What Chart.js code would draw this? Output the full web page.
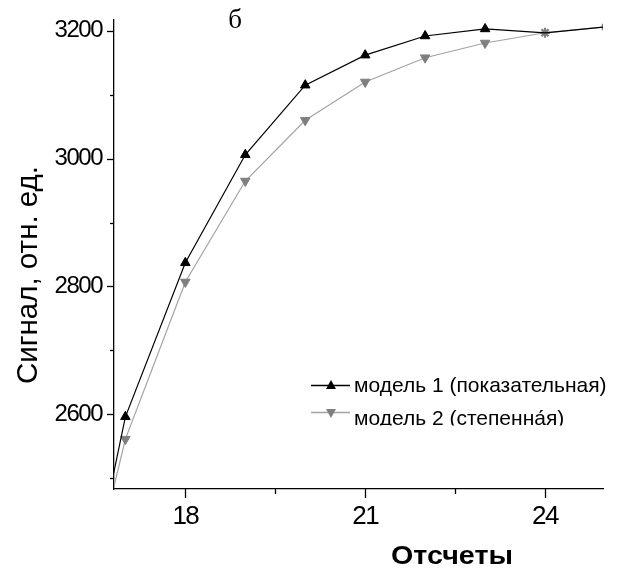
<!DOCTYPE html>
<html><head><meta charset="utf-8">
<script src="https://cdn.jsdelivr.net/npm/chart.js@4.4.0/dist/chart.umd.min.js"></script>
<style>html,body{margin:0;padding:0;background:#fff;}canvas{display:block;}</style>
</head><body>
<canvas id="c" width="627" height="574"></canvas>
<script>
// ---- data ----
const samples = [16, 17, 18, 19, 20, 21, 22, 23, 24, 25];
const model1 = [2144, 2596, 2837, 3006, 3115, 3162, 3192, 3203, 3197, 3206];
const model2 = [2172, 2561, 2807, 2965, 3060, 3120, 3158, 3181, 3197, 3206];
const seriesLabels = ['модель 1 (показательная)', 'модель 2 (степенна́я)'];
const xTickValues = [18, 19.5, 21, 22.5, 24];
const xTickLabels = ['18', '', '21', '', '24'];
const yTickValues = [2500, 2600, 2700, 2800, 2900, 3000, 3100, 3200];
const yTickLabels = ['', '2600', '', '2800', '', '3000', '', '3200'];
const xTitle = 'Отсчеты';
const yTitle = 'Сигнал, отн. ед.';
const panelTitle = 'б';

const BLACK = '#000000', GRAY_LINE = '#a3a3a3', GRAY_MARK = '#7f7f7f';
const SANS = '"Liberation Sans", Arial, sans-serif';

const n = samples.length;
const pts = (ys) => samples.map((x, i) => ({x, y: ys[i]}));

const m1Style = samples.map(() => 'triangle');
const m1Radius = samples.map((x, i) => i >= n - 2 ? 0 : 5.5);
const m2Style = samples.map((x, i) => i === n - 2 ? 'star' : (i === n - 1 ? 'rect' : 'triangle'));
const m2Radius = samples.map((x, i) => i === n - 2 ? 5 : (i === n - 1 ? 3.5 : 5.5));
const m2Fill = samples.map((x, i) => i === n - 1 ? '#ffffff' : GRAY_MARK);
const m2Rot = samples.map((x, i) => i >= n - 2 ? 0 : 180);
const m2BW = samples.map((x, i) => i === n - 2 ? 2.2 : (i === n - 1 ? 1.5 : 1));

const lookup = (vals, labels) => (v) => {
  const k = vals.findIndex(t => Math.abs(t - v) < 1e-6);
  return k < 0 ? '' : labels[k];
};

const spacingPlugin = {
  id: 'spacing',
  beforeDraw(chart) { chart.ctx.letterSpacing = '-1.5px'; },
  afterDatasetsDraw(chart) { chart.ctx.letterSpacing = '0px'; }
};

const zeroPad = s => { s.paddingTop = 0; s.paddingBottom = 0; s.paddingLeft = 0; s.paddingRight = 0; };

const decorPlugin = {
  id: 'decor',
  afterDraw(chart) {
    const ctx = chart.ctx;
    const xs = chart.scales.x, ys = chart.scales.y;
    ctx.save();
    ctx.letterSpacing = '0px';
    // tick marks (major / minor)
    ctx.strokeStyle = BLACK; ctx.lineWidth = 1.3;
    xs.ticks.forEach(t => {
      const px = Math.round(xs.getPixelForValue(t.value)) + 0.5;
      const len = lookup(xTickValues, xTickLabels)(t.value) ? 9 : 5;
      ctx.beginPath(); ctx.moveTo(px, xs.top); ctx.lineTo(px, xs.top + len); ctx.stroke();
    });
    ys.ticks.forEach(t => {
      const py = Math.round(ys.getPixelForValue(t.value)) + 0.5;
      const len = lookup(yTickValues, yTickLabels)(t.value) ? 7 : 4;
      ctx.beginPath(); ctx.moveTo(ys.right, py); ctx.lineTo(ys.right - len, py); ctx.stroke();
    });

    // panel title
    ctx.fillStyle = BLACK;
    ctx.font = '27px "Liberation Serif", "Times New Roman", serif';
    ctx.textAlign = 'center'; ctx.textBaseline = 'alphabetic';
    ctx.fillText(panelTitle, 235, 28);

    // y axis title (rotated)
    ctx.textBaseline = 'middle';
    ctx.save();
    ctx.font = '30px ' + SANS;
    let w = ctx.measureText(yTitle).width;
    ctx.translate(29, 275);
    ctx.rotate(-Math.PI / 2);
    ctx.scale(218 / w, 1);
    ctx.fillText(yTitle, 0, 0);
    ctx.restore();

    // x axis title
    ctx.save();
    ctx.font = 'bold 25px ' + SANS;
    w = ctx.measureText(xTitle).width;
    ctx.translate(452, 557);
    ctx.scale(122 / w, 1);
    ctx.fillText(xTitle, 0, 0);
    ctx.restore();

    // legend
    ctx.save();
    ctx.beginPath(); ctx.rect(300, 360, 327, 65.5); ctx.clip();
    const rows = [
      {y: 385.5, ty: 391.5, line: BLACK, mark: BLACK, rot: 0},
      {y: 412.5, ty: 424.5, line: GRAY_LINE, mark: GRAY_MARK, rot: 180}
    ];
    rows.forEach((r, i) => {
      ctx.strokeStyle = r.line; ctx.lineWidth = 1.3;
      ctx.beginPath(); ctx.moveTo(311, r.y); ctx.lineTo(350, r.y); ctx.stroke();
      ctx.save();
      ctx.translate(331, r.y); ctx.rotate(r.rot * Math.PI / 180);
      ctx.fillStyle = r.mark;
      ctx.beginPath(); ctx.moveTo(0, -5.5); ctx.lineTo(5, 3.5); ctx.lineTo(-5, 3.5); ctx.closePath(); ctx.fill();
      ctx.restore();
      ctx.fillStyle = BLACK;
      ctx.font = '21px ' + SANS;
      ctx.textAlign = 'left'; ctx.textBaseline = 'alphabetic';
      ctx.fillText(seriesLabels[i], 354, r.ty);
    });
    ctx.restore();
    ctx.restore();
  }
};

new Chart(document.getElementById('c'), {
  type: 'line',
  data: {
    datasets: [
      {
        label: seriesLabels[0], data: pts(model1),
        borderColor: BLACK, borderWidth: 1.2, tension: 0,
        pointStyle: m1Style, pointRadius: m1Radius,
        pointBackgroundColor: BLACK, pointBorderColor: BLACK, pointBorderWidth: 1
      },
      {
        label: seriesLabels[1], data: pts(model2),
        borderColor: GRAY_LINE, borderWidth: 1.2, tension: 0,
        pointStyle: m2Style, pointRadius: m2Radius, pointRotation: m2Rot,
        pointBackgroundColor: m2Fill, pointBorderColor: GRAY_MARK, pointBorderWidth: m2BW
      }
    ]
  },
  options: {
    responsive: false, animation: false, devicePixelRatio: 1,
    layout: {autoPadding: false, padding: {top: 20, right: 24, left: 0, bottom: 0}},
    plugins: {legend: {display: false}, tooltip: {enabled: false}, title: {display: false}},
    scales: {
      x: {
        type: 'linear', min: 16.81, max: 24.967,
        afterFit: s => { s.height = 85; zeroPad(s); },
        afterBuildTicks: s => { s.ticks = xTickValues.map(v => ({value: v})); },
        grid: {display: false, drawTicks: false},
        border: {display: true, color: BLACK, width: 1.3},
        ticks: {
          autoSkip: false, maxRotation: 0, padding: 12, color: BLACK,
          font: {family: SANS, size: 26},
          callback: lookup(xTickValues, xTickLabels)
        }
      },
      y: {
        type: 'linear', min: 2483, max: 3217,
        afterFit: s => { s.width = 114; zeroPad(s); },
        afterBuildTicks: s => { s.ticks = yTickValues.map(v => ({value: v})); },
        grid: {display: false, drawTicks: false},
        border: {display: true, color: BLACK, width: 1.3},
        ticks: {
          autoSkip: false, padding: 12, color: BLACK,
          font: {family: SANS, size: 24},
          callback: lookup(yTickValues, yTickLabels)
        }
      }
    }
  },
  plugins: [spacingPlugin, decorPlugin]
});
</script>
</body></html>
